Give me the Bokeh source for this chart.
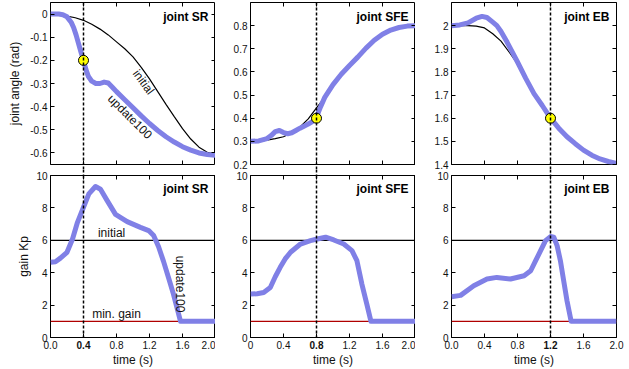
from bokeh.plotting import figure
from bokeh.models import Range1d, LinearAxis, FixedTicker, Label, Span
from bokeh.layouts import column, row
from bokeh.embed import file_html
from bokeh.resources import INLINE
from bokeh.core.properties import value

FONT = "Liberation Sans"
BLUE = "#8080e6"
RED = "#b00000"

# ---------------- data ----------------
joint_names = ["joint SR", "joint SFE", "joint EB"]
marker_times = [0.4, 0.8, 1.2]
marker_angles = [-0.2, 0.4, 1.6]

x_ticks = [0.0, 0.4, 0.8, 1.2, 1.6, 2.0]
x_tick_labels = [
    ["0.0", "0.4", "0.8", "1.2", "1.6", "2.0"],
    ["0", "0.4", "0.8", "1.2", "1.6", "2.0"],
    ["0.0", "0.4", "0.8", "1.2", "1.6", "2.0"],
]

angle_y_ranges = [(-0.65, 0.05), (0.2, 0.9), (1.4, 2.1)]
angle_y_ticks = [
    [-0.6, -0.5, -0.4, -0.3, -0.2, -0.1, 0.0],
    [0.2, 0.3, 0.4, 0.5, 0.6, 0.7, 0.8],
    [1.4, 1.5, 1.6, 1.7, 1.8, 1.9, 2.0],
]
angle_y_labels = [
    ["-0.6", "-0.5", "-0.4", "-0.3", "-0.2", "-0.1", "0"],
    ["0.2", "0.3", "0.4", "0.5", "0.6", "0.7", "0.8"],
    ["1.4", "1.5", "1.6", "1.7", "1.8", "1.9", "2"],
]
gain_y_range = (0, 10)
gain_y_ticks = [0, 2, 4, 6, 8, 10]
gain_y_labels = ["0", "2", "4", "6", "8", "10"]

# joint SR angle
sr_init_t = [0, 0.1, 0.2, 0.3, 0.4, 0.5, 0.6, 0.7, 0.8, 0.9, 1.0, 1.1, 1.2, 1.3, 1.4, 1.5, 1.6, 1.7, 1.8, 1.9, 2.0]
sr_init_q = [0, -0.002, -0.009, -0.016, -0.027, -0.044, -0.065, -0.09, -0.12, -0.15, -0.185, -0.23, -0.28,
             -0.335, -0.39, -0.443, -0.495, -0.54, -0.575, -0.597, -0.605]
sr_upd_t = [0, 0.1, 0.15, 0.2, 0.25, 0.28, 0.31, 0.34, 0.37, 0.4, 0.43, 0.46, 0.5, 0.55, 0.6, 0.65, 0.7, 0.75,
            0.8, 0.9, 1.0, 1.1, 1.2, 1.3, 1.4, 1.5, 1.6, 1.7, 1.8, 1.9, 2.0]
sr_upd_q = [0, 0, -0.003, -0.012, -0.035, -0.058, -0.09, -0.128, -0.165, -0.2, -0.24, -0.27, -0.29, -0.3, -0.3,
            -0.294, -0.298, -0.316, -0.335, -0.37, -0.405, -0.44, -0.473, -0.503, -0.53, -0.553, -0.573, -0.588,
            -0.6, -0.607, -0.61]

# joint SFE angle
sfe_init_t = [0, 0.1, 0.2, 0.3, 0.4, 0.5, 0.6, 0.7, 0.8, 0.9, 1.0, 1.1, 1.2, 1.3, 1.4, 1.5, 1.6, 1.7, 1.8, 1.9, 2.0]
sfe_init_q = [0.3, 0.3, 0.305, 0.312, 0.32, 0.337, 0.362, 0.397, 0.445, 0.49, 0.545, 0.59, 0.628, 0.664, 0.703,
              0.737, 0.763, 0.781, 0.792, 0.798, 0.8]
sfe_upd_t = [0, 0.1, 0.2, 0.25, 0.3, 0.35, 0.4, 0.45, 0.5, 0.55, 0.6, 0.7, 0.75, 0.8, 0.85, 0.9, 1.0, 1.1, 1.2,
             1.3, 1.4, 1.5, 1.6, 1.7, 1.8, 1.9, 2.0]
sfe_upd_q = [0.3, 0.302, 0.312, 0.325, 0.342, 0.347, 0.338, 0.333, 0.337, 0.347, 0.357, 0.375, 0.385, 0.405,
             0.45, 0.49, 0.545, 0.59, 0.628, 0.664, 0.703, 0.737, 0.763, 0.781, 0.792, 0.798, 0.8]

# joint EB angle
eb_init_t = [0, 0.1, 0.2, 0.3, 0.4, 0.5, 0.6, 0.7, 0.8, 0.9, 1.0, 1.1, 1.2, 1.3, 1.4, 1.5, 1.6, 1.7, 1.8, 1.9, 2.0]
eb_init_q = [2.0, 2.0, 2.0, 1.998, 1.99, 1.965, 1.933, 1.885, 1.835, 1.772, 1.706, 1.655, 1.6, 1.557, 1.52,
             1.49, 1.462, 1.44, 1.424, 1.413, 1.405]
eb_upd_t = [0, 0.1, 0.2, 0.3, 0.37, 0.43, 0.5, 0.55, 0.6, 0.675, 0.8, 0.9, 1.0, 1.1, 1.2, 1.3, 1.4, 1.5, 1.6,
            1.7, 1.8, 1.9, 2.0]
eb_upd_q = [2.0, 2.003, 2.012, 2.032, 2.04, 2.035, 2.015, 2.0, 1.975, 1.928, 1.843, 1.772, 1.706, 1.655, 1.6,
            1.557, 1.52, 1.49, 1.462, 1.44, 1.424, 1.413, 1.405]

# gains (update100)
sr_gain_t = [0, 0.06, 0.12, 0.2, 0.267, 0.327, 0.4, 0.465, 0.545, 0.606, 0.687, 0.788, 0.929, 1.09, 1.19, 1.25,
             1.31, 1.37, 1.43, 1.49, 1.576, 2.0]
sr_gain_k = [4.64, 4.68, 4.9, 5.26, 6.08, 7.11, 8.04, 8.87, 9.32, 9.15, 8.45, 7.6, 7.15, 6.8, 6.6, 6.29, 5.6,
             4.7, 3.7, 2.68, 1.0, 1.0]
sfe_gain_t = [0, 0.08, 0.16, 0.24, 0.3, 0.36, 0.42, 0.485, 0.606, 0.727, 0.81, 0.91, 1.01, 1.13, 1.23, 1.29,
              1.35, 1.41, 1.46, 2.0]
sfe_gain_k = [2.68, 2.7, 2.78, 3.09, 3.75, 4.33, 4.85, 5.26, 5.77, 5.98, 6.08, 6.19, 6.02, 5.77, 5.36, 4.74,
              3.3, 2.06, 1.0, 1.0]
eb_gain_t = [0, 0.11, 0.27, 0.43, 0.55, 0.715, 0.88, 0.96, 1.02, 1.08, 1.14, 1.2, 1.24, 1.28, 1.32, 1.36, 1.40,
             1.45, 2.0]
eb_gain_k = [2.52, 2.6, 3.2, 3.61, 3.71, 3.61, 3.81, 4.12, 4.74, 5.36, 5.98, 6.23, 6.19, 5.67, 4.74, 3.5, 2.27,
             1.0, 1.0]
gain_initial = 6.0
gain_min = 1.0

angle_init = [(sr_init_t, sr_init_q), (sfe_init_t, sfe_init_q), (eb_init_t, eb_init_q)]
angle_upd = [(sr_upd_t, sr_upd_q), (sfe_upd_t, sfe_upd_q), (eb_upd_t, eb_upd_q)]
gain_upd = [(sr_gain_t, sr_gain_k), (sfe_gain_t, sfe_gain_k), (eb_gain_t, eb_gain_k)]

# in-plot annotations (left column)
angle_note_text = ["initial", "update100"]
angle_note_x = [1.127, 0.962]
angle_note_y = [-0.294, -0.444]
angle_note_rot = [-0.94, -0.785]
gain_note_text = ["initial", "min. gain", "update100"]
gain_note_x = [0.74, 0.80, 1.57]
gain_note_y = [6.45, 1.42, 3.3]
gain_note_rot = [0.0, 0.0, -1.5708]

# ---------------- layout ----------------
border_left = [50, 35, 36]
border_right = [0, 0, 13]


def style_axis(ax, show_labels):
    ax.major_tick_in = 4
    ax.major_tick_out = 0
    ax.minor_tick_line_color = None
    ax.axis_line_color = None
    ax.major_tick_line_color = "black"
    ax.major_label_text_font = FONT
    ax.axis_label_text_font = FONT
    ax.axis_label_text_font_style = "normal"
    ax.axis_label_text_font_size = "12px"
    ax.axis_label_text_color = "#111111"
    if show_labels:
        ax.major_label_text_color = "#111111"
        ax.major_label_text_font_size = "10px"
        ax.major_label_standoff = 3
        ax.axis_label_standoff = 3
    else:
        ax.major_label_text_color = None
        ax.major_label_text_font_size = "0px"
        ax.major_label_standoff = 0


def marker_gap_axis(col, length):
    # an outward dashed tick at the marked time bridges the gap between the two panels
    ma = LinearAxis(ticker=FixedTicker(ticks=[marker_times[col]]))
    style_axis(ma, False)
    ma.major_tick_in = 0
    ma.major_tick_out = length
    ma.major_tick_line_width = 1.5
    ma.major_tick_line_dash = "3 2"
    return ma


def make_panel(col, top):
    yr = angle_y_ranges[col] if top else gain_y_range
    yt = angle_y_ticks[col] if top else gain_y_ticks
    yl = angle_y_labels[col] if top else gain_y_labels
    p = figure(frame_width=165, frame_height=162,
               x_range=Range1d(0, 2), y_range=Range1d(*yr),
               output_backend="svg", toolbar_location=None,
               min_border_left=border_left[col], min_border_right=border_right[col],
               min_border_top=2 if top else 6, min_border_bottom=5 if top else 32)
    p.outline_line_color = "black"
    p.outline_line_width = 1
    p.xgrid.visible = False
    p.ygrid.visible = False
    p.background_fill_color = "white"
    p.border_fill_color = "white"

    # axes
    xa = p.xaxis[0]
    xa.ticker = FixedTicker(ticks=x_ticks)
    ov = {t: l for t, l in zip(x_ticks, x_tick_labels[col])}
    ov[marker_times[col]] = ""
    xa.major_label_overrides = ov
    style_axis(xa, not top)
    if not top:
        xa.axis_label = "time (s)"
        xa.axis_label_standoff = 1
    ya = p.yaxis[0]
    ya.ticker = FixedTicker(ticks=yt)
    ya.major_label_overrides = {t: l for t, l in zip(yt, yl)}
    style_axis(ya, True)
    if col == 0:
        ya.axis_label = "joint angle (rad)" if top else "gain Kp"
        ya.axis_label_standoff = 5 if top else 2
    ra = LinearAxis(ticker=FixedTicker(ticks=yt))
    style_axis(ra, False)
    p.add_layout(ra, "right")
    aa = LinearAxis(ticker=FixedTicker(ticks=x_ticks))
    style_axis(aa, False)
    p.add_layout(aa, "above")
    if top:
        p.add_layout(marker_gap_axis(col, 5), "below")
    else:
        p.add_layout(marker_gap_axis(col, 6), "above")

    if top:
        it, iq = angle_init[col]
        p.line(it, iq, line_color="black", line_width=1.2)
        ut, uq = angle_upd[col]
        p.line(ut, uq, line_color=BLUE, line_width=5, line_join="round")
    else:
        p.line([0, 2], [gain_initial, gain_initial], line_color="black", line_width=1.2)
        p.line([0, 2], [gain_min, gain_min], line_color=RED, line_width=1.2)
        gt, gk = gain_upd[col]
        p.line(gt, gk, line_color=BLUE, line_width=5, line_join="round")

    p.add_layout(Span(location=marker_times[col], dimension="height", line_color="black",
                      line_width=1.5, line_dash="3 2"))
    if top:
        p.scatter([marker_times[col]], [marker_angles[col]], size=10, fill_color="#ffff00",
                  line_color="black", line_width=1)
    else:
        # bold tick label of the marked time (placed in a side panel so it is not clipped)
        p.add_layout(Label(x=marker_times[col], y=0, y_offset=-3,
                           text=x_tick_labels[col][x_ticks.index(marker_times[col])],
                           text_font=FONT, text_font_size="10px", text_font_style="bold",
                           text_align="center", text_baseline="top", text_color="#111111"), "left")

    p.add_layout(Label(x=2.0, y=yr[1], x_offset=-7, y_offset=-7 if top else -6, text=joint_names[col],
                       text_font=FONT, text_font_size="12px", text_font_style="bold",
                       text_align="right", text_baseline="top", text_color="black"))

    if col == 0:
        if top:
            p.text(x=angle_note_x, y=angle_note_y, text=angle_note_text, angle=angle_note_rot,
                   text_font=value(FONT), text_font_size="12px", text_align="center",
                   text_baseline="middle", text_color="#111111")
        else:
            p.text(x=gain_note_x, y=gain_note_y, text=gain_note_text, angle=gain_note_rot,
                   text_font=value(FONT), text_font_size="12px", text_align="center",
                   text_baseline="middle", text_color="#111111")
    return p


top_row = row([make_panel(c, True) for c in range(3)], spacing=0)
bottom_row = row([make_panel(c, False) for c in range(3)], spacing=0)
layout = column(top_row, bottom_row, spacing=0)

open("out.html", "w").write(file_html(layout, INLINE))
